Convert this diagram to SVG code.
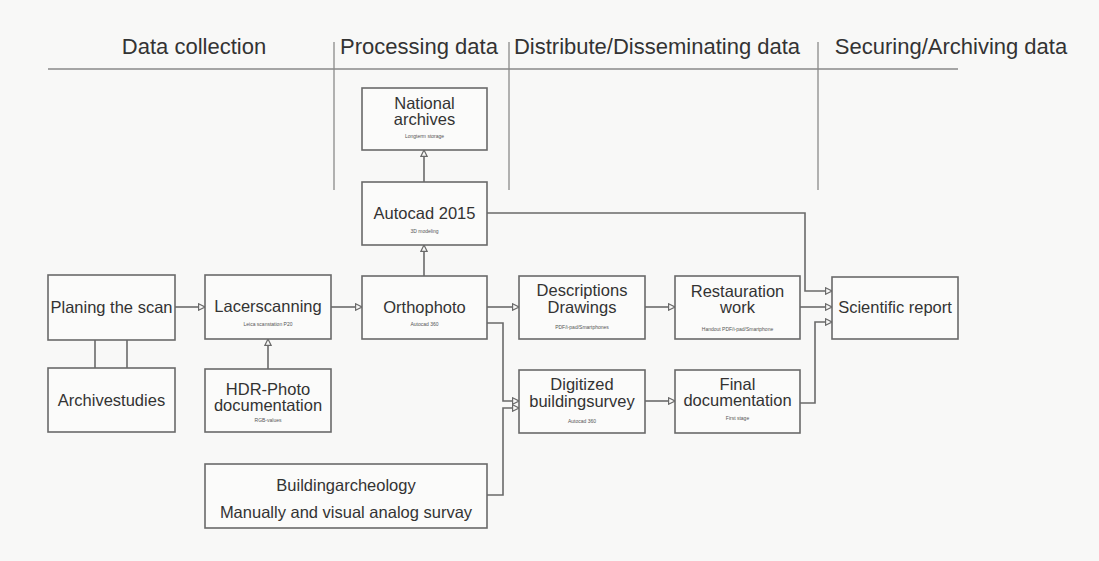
<svg xmlns="http://www.w3.org/2000/svg" width="1099" height="561" viewBox="0 0 1099 561">
  <style>
    .bg { fill: #f8f8f7; }
    .box { fill: #fbfbfa; stroke: #6a6a6a; stroke-width: 1.6; }
    .hdr { font-family: "Liberation Sans", Arial, sans-serif; font-size: 22px; fill: #333; text-anchor: middle; }
    .lbl { font-family: "Liberation Sans", Arial, sans-serif; font-size: 16.5px; fill: #333; text-anchor: middle; }
    .sub { font-family: "Liberation Sans", Arial, sans-serif; font-size: 5px; fill: #555; text-anchor: middle; }
    .rule { stroke: #8a8a8a; stroke-width: 1.3; fill: none; }
    .wire { stroke: #6a6a6a; stroke-width: 1.6; fill: none; }
    .arrow { stroke: #6a6a6a; stroke-width: 1.6; fill: none; marker-end: url(#tip); }
  </style>
  <defs>
    <marker id="tip" viewBox="0 0 10 10" refX="9" refY="5" markerWidth="8" markerHeight="8" orient="auto" markerUnits="userSpaceOnUse">
      <path d="M1,1 L9,5 L1,9 Z" fill="#f8f8f7" stroke="#6a6a6a" stroke-width="1.5"/>
    </marker>
  </defs>

  <rect class="bg" x="0" y="0" width="1099" height="561"/>

  <!-- Phase headers and separators -->
  <g id="phases">
    <text class="hdr" x="194" y="54">Data collection</text>
    <text class="hdr" x="419" y="54">Processing data</text>
    <text class="hdr" x="657" y="54">Distribute/Disseminating data</text>
    <text class="hdr" x="951" y="54">Securing/Archiving data</text>
    <line class="rule" x1="48" y1="69" x2="958" y2="69"/>
    <line class="rule" x1="334" y1="42" x2="334" y2="190"/>
    <line class="rule" x1="509" y1="42" x2="509" y2="190"/>
    <line class="rule" x1="818" y1="42" x2="818" y2="190"/>
  </g>

  <!-- Connectors -->
  <g id="connectors">
    <line class="arrow" x1="175" y1="307" x2="205" y2="307"/>
    <line class="wire" x1="95" y1="340" x2="95" y2="368"/>
    <line class="wire" x1="127" y1="340" x2="127" y2="368"/>
    <line class="arrow" x1="268" y1="369" x2="268" y2="339"/>
    <line class="arrow" x1="331" y1="307" x2="362" y2="307"/>
    <line class="arrow" x1="424" y1="276" x2="424" y2="245"/>
    <line class="arrow" x1="424" y1="182" x2="424" y2="150"/>
    <polyline class="arrow" points="487,213 805,213 805,291 832,291"/>
    <line class="arrow" x1="487" y1="307" x2="519" y2="307"/>
    <polyline class="arrow" points="487,323 503,323 503,401 519,401"/>
    <polyline class="arrow" points="487,495 503,495 503,408 519,408"/>
    <line class="arrow" x1="645" y1="307" x2="675" y2="307"/>
    <line class="arrow" x1="645" y1="401" x2="675" y2="401"/>
    <line class="arrow" x1="800" y1="307" x2="832" y2="307"/>
    <polyline class="arrow" points="800,403 815,403 815,322 832,322"/>
  </g>

  <!-- Nodes -->
  <g id="national-archives">
    <rect class="box" x="362" y="88" width="125" height="62"/>
    <text class="lbl" x="424.5" y="109">National</text>
    <text class="lbl" x="424.5" y="125">archives</text>
    <text class="sub" x="424.5" y="138">Longterm storage</text>
  </g>

  <g id="autocad-2015">
    <rect class="box" x="362" y="182" width="125" height="63"/>
    <text class="lbl" x="424.5" y="219">Autocad 2015</text>
    <text class="sub" x="424.5" y="233">3D modeling</text>
  </g>

  <g id="planing-the-scan">
    <rect class="box" x="48" y="275" width="127" height="65"/>
    <text class="lbl" x="111.5" y="313">Planing the scan</text>
  </g>

  <g id="archivestudies">
    <rect class="box" x="48" y="368" width="127" height="64"/>
    <text class="lbl" x="111.5" y="406">Archivestudies</text>
  </g>

  <g id="lacerscanning">
    <rect class="box" x="205" y="275" width="126" height="64"/>
    <text class="lbl" x="268" y="312">Lacerscanning</text>
    <text class="sub" x="268" y="326">Leica scanstation P20</text>
  </g>

  <g id="hdr-photo">
    <rect class="box" x="205" y="369" width="126" height="63"/>
    <text class="lbl" x="268" y="395">HDR-Photo</text>
    <text class="lbl" x="268" y="411">documentation</text>
    <text class="sub" x="268" y="422">RGB-values</text>
  </g>

  <g id="orthophoto">
    <rect class="box" x="362" y="276" width="125" height="63"/>
    <text class="lbl" x="424.5" y="313">Orthophoto</text>
    <text class="sub" x="424.5" y="326">Autocad 360</text>
  </g>

  <g id="descriptions-drawings">
    <rect class="box" x="519" y="276" width="126" height="63"/>
    <text class="lbl" x="582" y="296">Descriptions</text>
    <text class="lbl" x="582" y="313">Drawings</text>
    <text class="sub" x="582" y="329">PDF/i-pad/Smartphones</text>
  </g>

  <g id="restauration-work">
    <rect class="box" x="675" y="276" width="125" height="63"/>
    <text class="lbl" x="737.5" y="297">Restauration</text>
    <text class="lbl" x="737.5" y="313">work</text>
    <text class="sub" x="737.5" y="331">Handout PDF/i-pad/Smartphone</text>
  </g>

  <g id="digitized-buildingsurvey">
    <rect class="box" x="519" y="370" width="126" height="63"/>
    <text class="lbl" x="582" y="390">Digitized</text>
    <text class="lbl" x="582" y="407">buildingsurvey</text>
    <text class="sub" x="582" y="423">Autocad 360</text>
  </g>

  <g id="final-documentation">
    <rect class="box" x="675" y="370" width="125" height="63"/>
    <text class="lbl" x="737.5" y="390">Final</text>
    <text class="lbl" x="737.5" y="406">documentation</text>
    <text class="sub" x="737.5" y="420">First stage</text>
  </g>

  <g id="scientific-report">
    <rect class="box" x="832" y="277" width="126" height="62"/>
    <text class="lbl" x="895" y="313">Scientific report</text>
  </g>

  <g id="buildingarcheology">
    <rect class="box" x="205" y="464" width="282" height="64"/>
    <text class="lbl" x="346" y="491">Buildingarcheology</text>
    <text class="lbl" x="346" y="518">Manually and visual analog survay</text>
  </g>
</svg>
